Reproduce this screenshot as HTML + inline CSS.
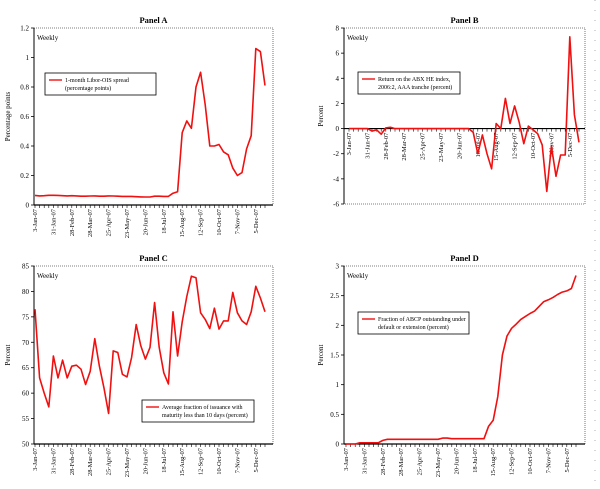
<!DOCTYPE html>
<html><head><meta charset="utf-8"><style>
html,body{margin:0;padding:0;background:#fff;width:600px;height:489px;overflow:hidden}
svg{display:block;font-family:"Liberation Serif",serif}
</style></head><body>
<svg id="c" width="600" height="489" viewBox="0 0 600 489"></svg>
<script>
const dateLabels=["3-Jan-07","31-Jan-07","28-Feb-07","28-Mar-07","25-Apr-07","23-May-07","20-Jun-07","18-Jul-07","15-Aug-07","12-Sep-07","10-Oct-07","7-Nov-07","5-Dec-07"];
const seriesA=[0.065,0.062,0.063,0.066,0.066,0.065,0.063,0.062,0.063,0.062,0.06,0.06,0.061,0.062,0.06,0.06,0.062,0.061,0.06,0.058,0.058,0.058,0.056,0.055,0.054,0.054,0.06,0.06,0.058,0.058,0.08,0.09,0.49,0.57,0.52,0.8,0.9,0.68,0.4,0.4,0.41,0.36,0.34,0.25,0.2,0.22,0.38,0.47,1.06,1.04,0.81];
const seriesB=[0,0,0,0,0,-0.2,-0.1,-0.45,0.05,0.1,0,0,0,0,0,0,0,0,0,0,0,0,0,0,0,0,0,-0.3,-2.0,-0.5,-2.0,-3.2,0.4,0.0,2.4,0.4,1.8,0.5,-1.2,0.2,-0.1,-0.4,-1.3,-5.0,-1.4,-3.8,-2.1,-2.1,7.3,1.1,-1.1];
const seriesC=[76.5,63,60,57.3,67.3,63,66.5,63,65.3,65.5,64.7,61.7,64.3,70.7,65.3,61,56,68.3,68,63.7,63.2,67,73.5,69.3,66.7,69,77.8,69,64,61.8,76,67.3,74,79,83,82.7,75.8,74.5,72.7,76.7,72.6,74.2,74.2,79.8,75.8,74.2,73.5,76,81,78.7,76];
const seriesD=[0,0,0,0.02,0.02,0.02,0.02,0.02,0.06,0.08,0.08,0.08,0.08,0.08,0.08,0.08,0.08,0.08,0.08,0.08,0.08,0.1,0.1,0.09,0.09,0.09,0.09,0.09,0.09,0.09,0.09,0.3,0.4,0.8,1.5,1.82,1.95,2.02,2.1,2.15,2.2,2.24,2.32,2.4,2.43,2.47,2.52,2.56,2.58,2.62,2.84];
const ticksA=[0,0.2,0.4,0.6,0.8,1,1.2];
const ticksB=[-6,-4,-2,0,2,4,6,8];
const ticksC=[50,55,60,65,70,75,80,85];
const ticksD=[0,0.5,1,1.5,2,2.5,3];

const NS="http://www.w3.org/2000/svg";
const svg=document.getElementById('c');
function el(t,a,p){const e=document.createElementNS(NS,t);for(const k in a)e.setAttribute(k,a[k]);(p||svg).appendChild(e);return e;}
function txt(s,a,p){const e=el('text',a,p);e.textContent=s;return e;}

function panel(o){
  const g=el('g',{});
  
  
  const ymin=o.ticks[0],ymax=o.ticks[o.ticks.length-1];
  const Y=v=>o.y0+(ymax-v)/(ymax-ymin)*(o.y1-o.y0);
  const step=4.6;
  const X=i=>o.xs+i*step;
  const t=txt(o.title,{x:(o.px0+o.px1)/2,y:o.y0-5,'text-anchor':'middle','font-size':8.5,'font-weight':'bold'},g);
  
  
  const fr=el('rect',{x:o.px0,y:o.y0,width:o.px1-o.px0,height:o.y1-o.y0,fill:'none',stroke:'#555','stroke-width':0.8,'stroke-dasharray':'1,1'},g);
  
  
  el('line',{x1:o.px0,y1:o.y0,x2:o.px0,y2:o.y1,stroke:'#000','stroke-width':1},g);
  o.ticks.forEach(v=>{
    el('line',{x1:o.px0-3,y1:Y(v),x2:o.px0,y2:Y(v),stroke:'#000','stroke-width':0.8},g);
    const l=txt(String(v),{x:o.px0-5,y:Y(v)+2.5,'text-anchor':'end','font-size':7},g);
    
    
  });
  const ax=Y(o.axisAt);
  el('line',{x1:o.px0,y1:ax,x2:o.px1,y2:ax,stroke:'#000','stroke-width':1.2},g);
  for(let i=0;i<o.data.length;i++)el('line',{x1:X(i),y1:ax,x2:X(i),y2:ax+3,stroke:'#000','stroke-width':0.6},g);
  dateLabels.forEach((d,k)=>{
    const x=X(k*4)+2, y=ax+4;
    const l=txt(d,{x:x,y:y,transform:`rotate(-90 ${x} ${y})`,'text-anchor':'end','font-size':6.5},g);
    
    
  });
  const yt=txt(o.ylab,{x:0,y:0,transform:`translate(${o.ylx} ${(o.y0+o.y1)/2}) rotate(-90)`,'text-anchor':'middle','font-size':7},g);
  
  
  const wk=txt('Weekly',{x:o.px0+3,y:o.y0+12,'font-size':7},g);
  
  
  const pts=o.data.map((v,i)=>X(i).toFixed(1)+','+Y(v).toFixed(1)).join(' ');
  const pl=el('polyline',{points:pts,fill:'none',stroke:'#f01010','stroke-width':1.6,'stroke-linejoin':'round'},g);
  
  
  const lg=el('g',{},g);
  
  
  el('rect',{x:o.lx,y:o.ly,width:o.lw,height:22,fill:'#fff',stroke:'#000','stroke-width':0.8},lg);
  el('line',{x1:o.lx+4,y1:o.ly+7,x2:o.lx+17,y2:o.ly+7,stroke:'#f01010','stroke-width':1.4},lg);
  txt(o.leg[0],{x:o.lx+20,y:o.ly+9,'font-size':6},lg);
  txt(o.leg[1],{x:o.lx+20,y:o.ly+17,'font-size':6},lg);
}
panel({name:'panel-a',title:'Panel A',px0:34,px1:273,y0:28,y1:205,xs:35,ticks:ticksA,axisAt:0,data:seriesA,ylab:'Percentage points',ylx:10,lx:45,ly:73,lw:111,leg:['1-month Libor-OIS spread','(percentage points)']});
panel({name:'panel-b',title:'Panel B',px0:344,px1:585,y0:28,y1:204,xs:349,ticks:ticksB,axisAt:0,data:seriesB,ylab:'Percent',ylx:323,lx:358,ly:72,lw:102,leg:['Return on the ABX HE index,','2006:2, AAA tranche (percent)']});
panel({name:'panel-c',title:'Panel C',px0:34,px1:273,y0:266,y1:444,xs:35,ticks:ticksC,axisAt:50,data:seriesC,ylab:'Percent',ylx:10,lx:142,ly:400,lw:112,leg:['Average fraction of issuance with','maturity less than 10 days (percent)']});
panel({name:'panel-d',title:'Panel D',px0:344,px1:585,y0:266,y1:444,xs:346,ticks:ticksD,axisAt:0,data:seriesD,ylab:'Percent',ylx:323,lx:358,ly:312,lw:111,leg:['Fraction of ABCP outstanding under','default or extension (percent)']});
el('line',{x1:595,y1:0,x2:595,y2:489,stroke:'#99a','stroke-width':0.8,'stroke-dasharray':'1,9'});
</script>
</body></html>
